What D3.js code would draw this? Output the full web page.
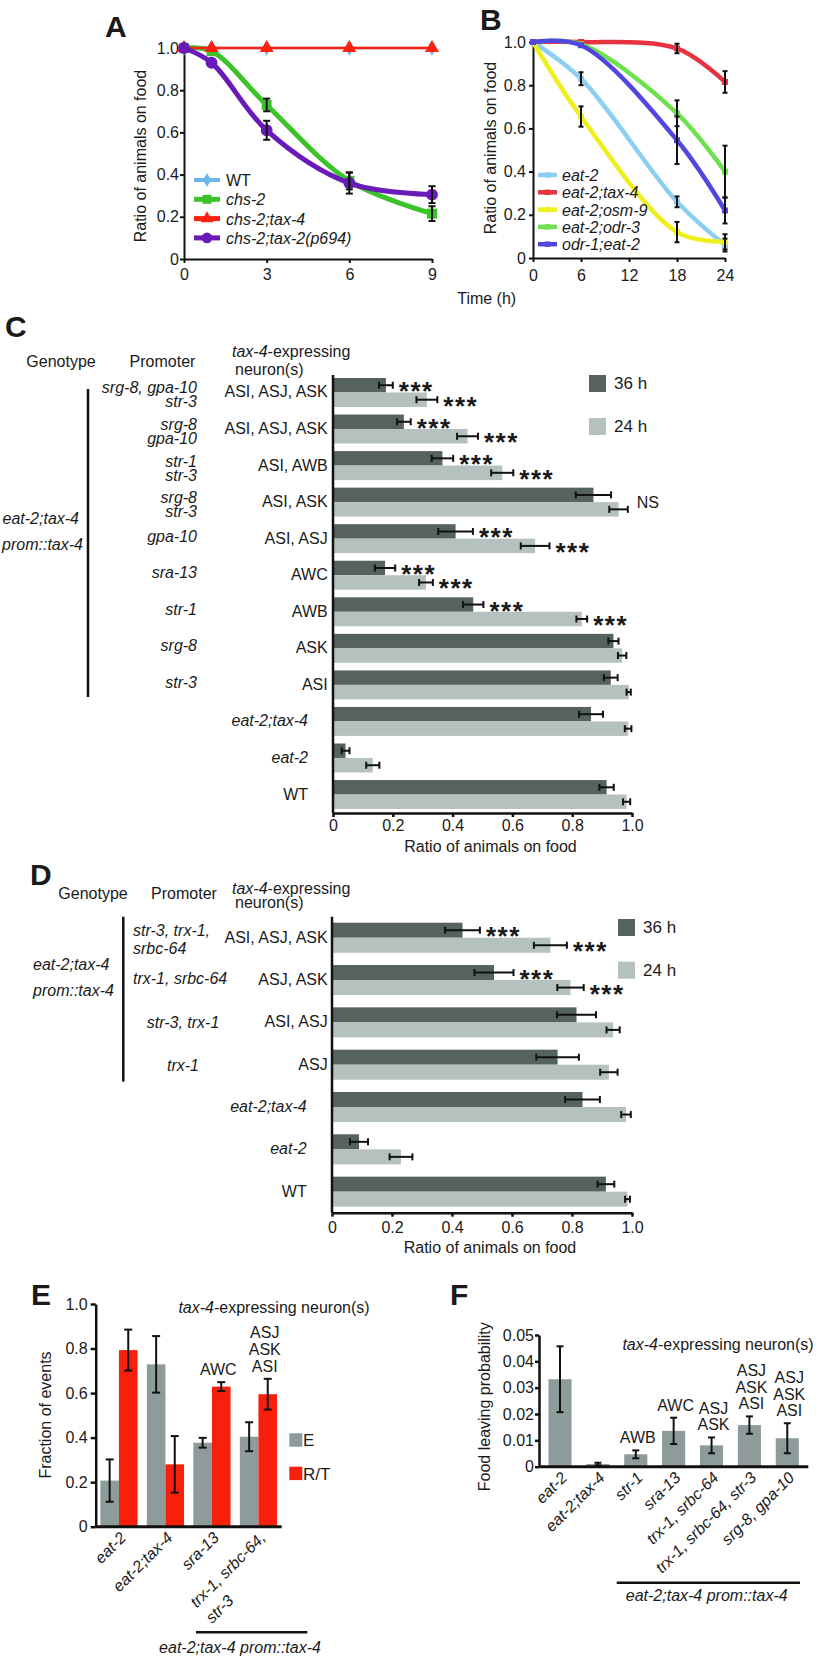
<!DOCTYPE html>
<html><head><meta charset="utf-8">
<script src="https://cdn.jsdelivr.net/npm/d3@7"></script>
<style>
body{margin:0;background:#fff;}
svg text{font-family:Arial,"Liberation Sans",Helvetica,sans-serif;fill:#1a1a1a;}
</style></head><body>
<svg id="fig" width="833" height="1658"></svg>
<script>
// ================= DATA =================
// Panel A
const aTimes = [0, 1, 3, 6, 9];
const aSeries = ["WT", "chs-2", "chs-2;tax-4", "chs-2;tax-2(p694)"];
const aWT = [1, 1, 1, 1, 1];
const aChs2 = [1, 0.985, 0.73, 0.37, 0.215];
const aChs2Err = [0, 0, 0.03, 0.04, 0.035];
const aTax4 = [1, 1, 1, 1, 1];
const aTax2 = [1, 0.93, 0.61, 0.36, 0.305];
const aTax2Err = [0, 0, 0.045, 0.05, 0.04];
const aXTicks = [0, 3, 6, 9];
const aYTicks = [0, 0.2, 0.4, 0.6, 0.8, 1.0];

// Panel B
const bTimes = [0, 6, 18, 24];
const bSeries = ["eat-2", "eat-2;tax-4", "eat-2;osm-9", "eat-2;odr-3", "odr-1;eat-2"];
const bEat2 = [1, 0.83, 0.26, 0.06];
const bEat2Err = [0, 0.03, 0.025, 0.03];
const bTax4 = [1, 1, 0.97, 0.815];
const bTax4Err = [0, 0, 0.022, 0.05];
const bOsm9 = [1, 0.655, 0.12, 0.075];
const bOsm9Err = [0, 0.047, 0.047, 0.035];
const bOdr3 = [1, 0.99, 0.67, 0.40];
const bOdr3Err = [0, 0, 0.06, 0.12];
const bOdr1 = [1, 0.985, 0.545, 0.22];
const bOdr1Err = [0, 0, 0.11, 0.06];
const bXTicks = [0, 6, 12, 18, 24];
const bYTicks = [0, 0.2, 0.4, 0.6, 0.8, 1.0];

// Panel C
const cPromoters = [["srg-8, gpa-10", "str-3"], ["srg-8", "gpa-10"], ["str-1", "str-3"], ["srg-8", "str-3"],
  ["gpa-10"], ["sra-13"], ["str-1"], ["srg-8"], ["str-3"], [], [], []];
const cNeurons = ["ASI, ASJ, ASK", "ASI, ASJ, ASK", "ASI, AWB", "ASI, ASK", "ASI, ASJ", "AWC", "AWB", "ASK", "ASI", "", "", ""];
const cControls = ["", "", "", "", "", "", "", "", "", "eat-2;tax-4", "eat-2", "WT"];
const c36 = [0.177, 0.237, 0.366, 0.871, 0.41, 0.174, 0.469, 0.938, 0.929, 0.863, 0.042, 0.915];
const c36Err = [0.023, 0.023, 0.036, 0.059, 0.058, 0.034, 0.034, 0.017, 0.023, 0.04, 0.013, 0.024];
const c24 = [0.314, 0.45, 0.566, 0.955, 0.676, 0.311, 0.832, 0.967, 0.989, 0.987, 0.133, 0.982];
const c24Err = [0.035, 0.035, 0.037, 0.031, 0.048, 0.023, 0.018, 0.014, 0.007, 0.011, 0.022, 0.012];
const c36Sig = ["***", "***", "***", "", "***", "***", "***", "", "", "", "", ""];
const c24Sig = ["***", "***", "***", "", "***", "***", "***", "", "", "", "", ""];
const cRowSig = ["", "", "", "NS", "", "", "", "", "", "", "", ""];
const barTicks = [0, 0.2, 0.4, 0.6, 0.8, 1.0];
const timeSeries = ["36 h", "24 h"];

// Panel D
const dPromoters = [["str-3, trx-1,", "srbc-64"], ["trx-1, srbc-64"], ["str-3, trx-1"], ["trx-1"], [], [], []];
const dNeurons = ["ASI, ASJ, ASK", "ASJ, ASK", "ASI, ASJ", "ASJ", "", "", ""];
const dControls = ["", "", "", "", "eat-2;tax-4", "eat-2", "WT"];
const d36 = [0.435, 0.54, 0.815, 0.752, 0.835, 0.09, 0.913];
const d36Err = [0.058, 0.065, 0.065, 0.071, 0.058, 0.03, 0.028];
const d24 = [0.728, 0.795, 0.937, 0.923, 0.98, 0.23, 0.985];
const d24Err = [0.055, 0.044, 0.022, 0.029, 0.016, 0.038, 0.008];
const d36Sig = ["***", "***", "", "", "", "", ""];
const d24Sig = ["***", "***", "", "", "", "", ""];

// Panel E
const eCats = [["eat-2"], ["eat-2;tax-4"], ["sra-13"], ["trx-1, srbc-64,", "str-3"]];
const eSeries = ["E", "R/T"];
const eE = [0.207, 0.729, 0.377, 0.404];
const eEErr = [0.095, 0.127, 0.022, 0.065];
const eRT = [0.793, 0.28, 0.629, 0.595];
const eRTErr = [0.092, 0.127, 0.02, 0.069];
const eNeurons = [[], [], ["AWC"], ["ASJ", "ASK", "ASI"]];
const eYTicks = [0, 0.2, 0.4, 0.6, 0.8, 1.0];

// Panel F
const fCats = ["eat-2", "eat-2;tax-4", "str-1", "sra-13", "trx-1, srbc-64", "trx-1, srbc-64, str-3", "srg-8, gpa-10"];
const fVals = [0.0332, 0.001, 0.0047, 0.0136, 0.0081, 0.0158, 0.0108];
const fErr = [0.0125, 0.0005, 0.0015, 0.005, 0.003, 0.0033, 0.0057];
const fNeurons = [[], [], ["AWB"], ["AWC"], ["ASJ", "ASK"], ["ASJ", "ASK", "ASI"], ["ASJ", "ASK", "ASI"]];
const fYTicks = [0, 0.01, 0.02, 0.03, 0.04, 0.05];

// ================= HELPERS =================
const svg = d3.select("#fig");
const FF = "Arial, 'Liberation Sans', Helvetica, sans-serif";
const INK = "#111";
function txt(g, x, y, s, o = {}) {
  const t = g.append("text").attr("x", x).attr("y", y).text(s)
    .attr("font-size", o.size || 16).attr("text-anchor", o.anchor || "start");
  if (o.italic) t.attr("font-style", "italic");
  if (o.bold) t.attr("font-weight", "bold");
  if (o.rotate != null) t.attr("transform", `rotate(${o.rotate},${x},${y})`);
  return t;
}
function mixed(g, x, y, parts, o = {}) {
  const t = g.append("text").attr("x", x).attr("y", y).attr("font-size", o.size || 16)
    .attr("text-anchor", o.anchor || "start");
  parts.forEach(p => t.append("tspan").text(p[0]).attr("font-style", p[1] ? "italic" : "normal"));
  return t;
}
function styleAxis(sel, sw = 2) {
  sel.attr("font-size", 16).attr("font-family", FF).attr("color", INK);
  sel.select(".domain").attr("stroke-width", sw);
  sel.selectAll(".tick line").attr("stroke-width", sw);
  sel.selectAll(".tick text").attr("fill", "#1a1a1a");
}
function vErr(g, x, y1, y2, cap) {
  g.append("line").attr("x1", x).attr("x2", x).attr("y1", y1).attr("y2", y2).attr("stroke", INK).attr("stroke-width", 2);
  [y1, y2].forEach(y => g.append("line").attr("x1", x - cap / 2).attr("x2", x + cap / 2).attr("y1", y).attr("y2", y).attr("stroke", INK).attr("stroke-width", 2));
}
function hErr(g, x1, x2, y, cap) {
  g.append("line").attr("x1", x1).attr("x2", x2).attr("y1", y).attr("y2", y).attr("stroke", INK).attr("stroke-width", 2);
  [x1, x2].forEach(x => g.append("line").attr("x1", x).attr("x2", x).attr("y1", y - cap / 2).attr("y2", y + cap / 2).attr("stroke", INK).attr("stroke-width", 2));
}
const fmt1 = d => d === 0 ? "0" : d3.format(".1f")(d);

// ================= PANEL A =================
{
  const g = svg.append("g");
  txt(g, 105, 37, "A", { size: 30, bold: true });
  const x = d3.scaleLinear().domain([0, 9]).range([184, 432]);
  const y = d3.scaleLinear().domain([0, 1]).range([259, 48]);
  g.append("g").attr("transform", "translate(0,259)")
    .call(d3.axisBottom(x).tickValues(aXTicks).tickSize(4).tickSizeOuter(0).tickPadding(6).tickFormat(d3.format("d")))
    .call(styleAxis);
  g.append("g").attr("transform", "translate(184,0)")
    .call(d3.axisLeft(y).tickValues(aYTicks).tickSize(4).tickSizeOuter(0).tickPadding(1).tickFormat(fmt1))
    .call(styleAxis);
  txt(g, 146, 156, "Ratio of animals on food", { anchor: "middle", rotate: -90 });
  const defs = [
    { vals: aWT, err: null, color: "#6db6ea", w: 2.5, lw: 4, sym: d3.symbolDiamond, size: 70 },
    { vals: aChs2, err: aChs2Err, color: "#3cc32a", w: 5, lw: 5, sym: d3.symbolSquare, size: 100 },
    { vals: aTax4, err: null, color: "#ff200f", w: 2.5, lw: 5, sym: d3.symbolTriangle, size: 85 },
    { vals: aTax2, err: aTax2Err, color: "#6a1ab8", w: 5, lw: 5, sym: d3.symbolCircle, size: 110 },
  ];
  const line = d3.line().x((d, i) => x(aTimes[i])).y(d => y(d)).curve(d3.curveCatmullRom.alpha(0.5));
  defs.forEach(s => {
    g.append("path").attr("d", line(s.vals)).attr("fill", "none").attr("stroke", s.color).attr("stroke-width", s.w);
    s.vals.forEach((v, i) => g.append("path").attr("d", d3.symbol(s.sym, s.size)())
      .attr("transform", `translate(${x(aTimes[i])},${y(v)})`).attr("fill", s.color));
  });
  defs.forEach(s => {
    if (!s.err) return;
    s.vals.forEach((v, i) => { if (s.err[i] > 0) vErr(g, x(aTimes[i]), y(v + s.err[i]), y(v - s.err[i]), 7); });
  });
  // legend
  defs.forEach((s, i) => {
    const yy = 180 + i * 19.3;
    g.append("line").attr("x1", 194).attr("x2", 220).attr("y1", yy).attr("y2", yy).attr("stroke", s.color).attr("stroke-width", s.lw);
    g.append("path").attr("d", d3.symbol(s.sym, s.size * 0.8)()).attr("transform", `translate(207,${yy})`).attr("fill", s.color);
    txt(g, 226, yy + 6, aSeries[i], { italic: i > 0 });
  });
}

// ================= PANEL B =================
{
  const g = svg.append("g");
  txt(g, 480, 30, "B", { size: 30, bold: true });
  const x = d3.scaleLinear().domain([0, 24]).range([533, 725]);
  const y = d3.scaleLinear().domain([0, 1]).range([258, 42]);
  g.append("g").attr("transform", "translate(0,258)")
    .call(d3.axisBottom(x).tickValues(bXTicks).tickSize(4).tickSizeOuter(0).tickPadding(8).tickFormat(d3.format("d")))
    .call(styleAxis);
  g.append("g").attr("transform", "translate(533,0)")
    .call(d3.axisLeft(y).tickValues(bYTicks).tickSize(4).tickSizeOuter(0).tickPadding(3).tickFormat(fmt1))
    .call(styleAxis);
  txt(g, 496, 148, "Ratio of animals on food", { anchor: "middle", rotate: -90 });
  txt(g, 486.7, 304, "Time (h)", { anchor: "middle" });
  const defs = [
    { vals: bEat2, err: bEat2Err, color: "#8ccff2" },
    { vals: bTax4, err: bTax4Err, color: "#e8323f" },
    { vals: bOsm9, err: bOsm9Err, color: "#eef01e" },
    { vals: bOdr3, err: bOdr3Err, color: "#6ee24c" },
    { vals: bOdr1, err: bOdr1Err, color: "#5245e0" },
  ];
  const line = d3.line().x((d, i) => x(bTimes[i])).y(d => y(d)).curve(d3.curveCatmullRom.alpha(0.5));
  defs.forEach(s => {
    g.append("path").attr("d", line(s.vals)).attr("fill", "none").attr("stroke", s.color).attr("stroke-width", 4.5);
    s.vals.forEach((v, i) => g.append("path").attr("d", d3.symbol(d3.symbolSquare, 36)())
      .attr("transform", `translate(${x(bTimes[i])},${y(v)})`).attr("fill", s.color));
  });
  defs.forEach(s => s.vals.forEach((v, i) => { if (s.err[i] > 0) vErr(g, x(bTimes[i]), y(v + s.err[i]), y(v - s.err[i]), 5); }));
  defs.forEach((s, i) => {
    const yy = 175 + i * 17.3;
    g.append("line").attr("x1", 538).attr("x2", 557).attr("y1", yy).attr("y2", yy).attr("stroke", s.color).attr("stroke-width", 4.5);
    g.append("path").attr("d", d3.symbol(d3.symbolSquare, 30)()).attr("transform", `translate(547.5,${yy})`).attr("fill", s.color);
    txt(g, 562, yy + 6, bSeries[i], { italic: true });
  });
}

// ================= HORIZONTAL BAR PANELS (C, D) =================
const DARK = "#56625f", LIGHT = "#b5c1be";
function barPanel(cfg) {
  const g = svg.append("g");
  const x = d3.scaleLinear().domain([0, 1]).range([cfg.x0, cfg.x1]);
  const rows = d3.range(cfg.v36.length);
  const y = d3.scaleBand().domain(rows).range([cfg.yTop, cfg.yBot]).paddingInner(cfg.pad);
  const sub = d3.scaleBand().domain(timeSeries).range([0, y.bandwidth()]);
  rows.forEach(i => {
    [[cfg.v36, DARK, timeSeries[0]], [cfg.v24, LIGHT, timeSeries[1]]].forEach(([v, col, k]) => {
      const yy = y(i) + sub(k);
      g.append("rect").attr("x", x(0)).attr("y", yy).attr("width", x(v[i]) - x(0)).attr("height", sub.bandwidth()).attr("fill", col);
    });
  });
  rows.forEach(i => {
    [[cfg.v36, cfg.e36, cfg.s36, timeSeries[0]], [cfg.v24, cfg.e24, cfg.s24, timeSeries[1]]].forEach(([v, e, s, k]) => {
      const yc = y(i) + sub(k) + sub.bandwidth() / 2;
      hErr(g, x(v[i] - e[i]), x(v[i] + e[i]), yc, 7);
      if (s[i]) txt(g, x(v[i] + e[i]) + 6, yc + 15, s[i], { size: 26, bold: true }).attr("letter-spacing", 1.5);
    });
    if (cfg.rowSig && cfg.rowSig[i]) {
      const xe = Math.max(x(cfg.v36[i] + cfg.e36[i]), x(cfg.v24[i] + cfg.e24[i]));
      txt(g, xe + 9, y(i) + y.bandwidth() / 2 + 6, cfg.rowSig[i]);
    }
  });
  // axes
  g.append("line").attr("x1", x(0)).attr("x2", x(0)).attr("y1", cfg.yTop - cfg.axTop).attr("y2", cfg.axisY).attr("stroke", INK).attr("stroke-width", 2.5);
  g.append("g").attr("transform", `translate(0,${cfg.axisY})`)
    .call(d3.axisBottom(x).tickValues(barTicks).tickSize(4).tickSizeOuter(0).tickPadding(cfg.tickPad).tickFormat(fmt1))
    .call(styleAxis, 2.5);
  txt(g, (cfg.x0 + cfg.x1) / 2 + 8, cfg.titleY, "Ratio of animals on food", { anchor: "middle" });
  // legend
  [[DARK, timeSeries[0]], [LIGHT, timeSeries[1]]].forEach(([col, lab], j) => {
    const ly = cfg.legY[j];
    g.append("rect").attr("x", cfg.legX).attr("y", ly).attr("width", 17).attr("height", 17).attr("fill", col);
    txt(g, cfg.legX + 25, ly + 14, lab, { size: 17 });
  });
  // row labels
  rows.forEach(i => {
    const yc = y(i) + y.bandwidth() / 2;
    if (cfg.neurons[i]) txt(g, 327.7, yc + 5, cfg.neurons[i], { anchor: "end" });
    if (cfg.controls[i]) txt(g, cfg.ctrlX, yc + 5, cfg.controls[i], { anchor: "end", italic: cfg.controls[i] !== "WT" });
    cfg.drawPromoter(g, cfg.promoters[i], yc, i);
  });
  return { g, x, y };
}

// ================= PANEL C =================
{
  const p = barPanel({
    x0: 333, x1: 632, yTop: 378, yBot: 809, pad: 0.208, axTop: 3, axisY: 813, tickPad: 3, titleY: 852,
    v36: c36, e36: c36Err, s36: c36Sig, v24: c24, e24: c24Err, s24: c24Sig, rowSig: cRowSig,
    neurons: cNeurons, controls: cControls, ctrlX: 308, legX: 589, legY: [375, 418],
    promoters: cPromoters,
    drawPromoter: (g, pr, yc) => {
      if (pr.length === 2) { txt(g, 197, yc + 1, pr[0], { anchor: "end", italic: true }); txt(g, 197, yc + 15, pr[1], { anchor: "end", italic: true }); }
      else if (pr.length === 1) txt(g, 197, yc + 3, pr[0], { anchor: "end", italic: true });
    }
  });
  const g = p.g;
  txt(g, 5, 337, "C", { size: 30, bold: true });
  txt(g, 61, 367, "Genotype", { anchor: "middle" });
  txt(g, 162.5, 367, "Promoter", { anchor: "middle" });
  mixed(g, 232, 357, [["tax-4", true], ["-expressing", false]]);
  txt(g, 235, 375, "neuron(s)");
  g.append("line").attr("x1", 88).attr("x2", 88).attr("y1", 389).attr("y2", 697).attr("stroke", INK).attr("stroke-width", 2.5);
  txt(g, 79, 524, "eat-2;tax-4", { anchor: "end", italic: true });
  txt(g, 83, 550, "prom::tax-4", { anchor: "end", italic: true });
}

// ================= PANEL D =================
{
  const p = barPanel({
    x0: 332, x1: 632, yTop: 922.7, yBot: 1206.7, pad: 0.29, axTop: 6, axisY: 1212.7, tickPad: 5, titleY: 1253,
    v36: d36, e36: d36Err, s36: d36Sig, v24: d24, e24: d24Err, s24: d24Sig, rowSig: null,
    neurons: dNeurons, controls: dControls, ctrlX: 306.7, legX: 618, legY: [919, 961.7],
    promoters: dPromoters,
    drawPromoter: (g, pr, yc, i) => {
      if (pr.length === 2) { txt(g, 133, yc - 1.5, pr[0], { italic: true }); txt(g, 133, yc + 16.5, pr[1], { italic: true }); }
      else if (pr.length === 1) {
        if (i === 1) txt(g, 133, yc + 4, pr[0], { italic: true });
        else txt(g, 183, yc + 6, pr[0], { anchor: "middle", italic: true });
      }
    }
  });
  const g = p.g;
  txt(g, 30, 885, "D", { size: 30, bold: true });
  txt(g, 93, 899, "Genotype", { anchor: "middle" });
  txt(g, 184, 899, "Promoter", { anchor: "middle" });
  mixed(g, 232, 894, [["tax-4", true], ["-expressing", false]]);
  txt(g, 235, 908, "neuron(s)");
  g.append("line").attr("x1", 123.3).attr("x2", 123.3).attr("y1", 916.7).attr("y2", 1081.7).attr("stroke", INK).attr("stroke-width", 2.5);
  txt(g, 33, 970, "eat-2;tax-4", { italic: true });
  txt(g, 33, 996, "prom::tax-4", { italic: true });
}

// ================= PANEL E =================
{
  const g = svg.append("g");
  const GREY = "#8d9b9b", RED = "#f8200c";
  txt(g, 31, 1305, "E", { size: 30, bold: true });
  const x = d3.scaleBand().domain(d3.range(eCats.length)).range([95.7, 281.7]).paddingInner(0.2).paddingOuter(0.1);
  const sub = d3.scaleBand().domain(eSeries).range([0, x.bandwidth()]);
  const y = d3.scaleLinear().domain([0, 1]).range([1526.7, 1304]);
  const sets = [[eE, eEErr, GREY, eSeries[0]], [eRT, eRTErr, RED, eSeries[1]]];
  eCats.forEach((c, i) => sets.forEach(([v, e, col, k]) => {
    g.append("rect").attr("x", x(i) + sub(k)).attr("y", y(v[i])).attr("width", sub.bandwidth()).attr("height", y(0) - y(v[i])).attr("fill", col);
  }));
  eCats.forEach((c, i) => sets.forEach(([v, e, col, k]) => {
    vErr(g, x(i) + sub(k) + sub.bandwidth() / 2, y(v[i] + e[i]), y(v[i] - e[i]), 8);
  }));
  g.append("g").attr("transform", "translate(95.7,0)")
    .call(d3.axisLeft(y).tickValues(eYTicks).tickSize(5).tickSizeOuter(0).tickPadding(3).tickFormat(fmt1))
    .call(styleAxis, 2.5);
  g.append("line").attr("x1", 95.7).attr("x2", 281.7).attr("y1", 1526.7).attr("y2", 1526.7).attr("stroke", INK).attr("stroke-width", 3);
  txt(g, 51, 1415, "Fraction of events", { anchor: "middle", rotate: -90 });
  mixed(g, 274, 1313, [["tax-4", true], ["-expressing neuron(s)", false]], { anchor: "middle" });
  // neuron annotations
  eNeurons.forEach((ns, i) => {
    const xc = x(i) + sub(eSeries[1]) + sub.bandwidth() / 2 - 3;
    const base = y(eRT[i] + eRTErr[i]) - 7;
    ns.forEach((n, j) => txt(g, xc, base - (ns.length - 1 - j) * 16.7, n, { anchor: "middle" }));
  });
  // legend
  [[GREY, eSeries[0]], [RED, eSeries[1]]].forEach(([col, lab], j) => {
    const ly = 1433.3 + j * 33.4;
    g.append("rect").attr("x", 289.3).attr("y", ly).attr("width", 13).attr("height", 13.4).attr("fill", col);
    txt(g, 303, ly + 13, lab, { size: 17 });
  });
  // x labels
  eCats.forEach((lines, i) => {
    const ax = x(i) + x.bandwidth() / 2 + 8, ay = 1526.7 + 12;
    const gg = g.append("g").attr("transform", `translate(${ax},${ay}) rotate(-45)`);
    const t1 = txt(gg, 0, 0, lines[0], { anchor: "end", italic: true });
    if (lines.length > 1) {
      const len = t1.node().getComputedTextLength();
      txt(gg, -len, 22, lines[1], { italic: true });
    }
  });
  g.append("line").attr("x1", 196).attr("x2", 307.3).attr("y1", 1632.3).attr("y2", 1632.3).attr("stroke", INK).attr("stroke-width", 2.5);
  txt(g, 240, 1653, "eat-2;tax-4 prom::tax-4", { anchor: "middle", italic: true });
}

// ================= PANEL F =================
{
  const g = svg.append("g");
  const GREY = "#8d9b9b";
  txt(g, 450, 1305, "F", { size: 30, bold: true });
  const x = d3.scaleBand().domain(d3.range(fCats.length)).range([539, 808.3]).paddingInner(0.39).paddingOuter(0.25);
  const y = d3.scaleLinear().domain([0, 0.05]).range([1466.7, 1335]);
  fCats.forEach((c, i) => g.append("rect").attr("x", x(i)).attr("y", y(fVals[i])).attr("width", x.bandwidth())
    .attr("height", y(0) - y(fVals[i])).attr("fill", GREY));
  fCats.forEach((c, i) => vErr(g, x(i) + x.bandwidth() / 2, y(fVals[i] + fErr[i]), y(Math.max(0, fVals[i] - fErr[i])), 7));
  g.append("g").attr("transform", "translate(539,0)")
    .call(d3.axisLeft(y).tickValues(fYTicks).tickSize(4).tickSizeOuter(0).tickPadding(1).tickFormat(d => d === 0 ? "0" : d3.format(".2f")(d)))
    .call(styleAxis, 2.5);
  g.append("line").attr("x1", 539).attr("x2", 808.3).attr("y1", 1466.7).attr("y2", 1466.7).attr("stroke", INK).attr("stroke-width", 3);
  txt(g, 490, 1406.7, "Food leaving probability", { anchor: "middle", rotate: -90 });
  mixed(g, 718, 1350, [["tax-4", true], ["-expressing neuron(s)", false]], { anchor: "middle" });
  fNeurons.forEach((ns, i) => {
    const xc = x(i) + x.bandwidth() / 2 + 2;
    const base = y(fVals[i] + fErr[i]) - 7;
    ns.forEach((n, j) => txt(g, xc, base - (ns.length - 1 - j) * 16.5, n, { anchor: "middle" }));
  });
  fCats.forEach((c, i) => {
    const ax = x(i) + x.bandwidth() / 2 + 8, ay = 1466.7 + 12;
    const gg = g.append("g").attr("transform", `translate(${ax},${ay}) rotate(-45)`);
    txt(gg, 0, 0, c, { anchor: "end", italic: true });
  });
  g.append("line").attr("x1", 616.7).attr("x2", 800).attr("y1", 1582.7).attr("y2", 1582.7).attr("stroke", INK).attr("stroke-width", 2.5);
  txt(g, 706.7, 1601, "eat-2;tax-4 prom::tax-4", { anchor: "middle", italic: true });
}
</script>
</body></html>
